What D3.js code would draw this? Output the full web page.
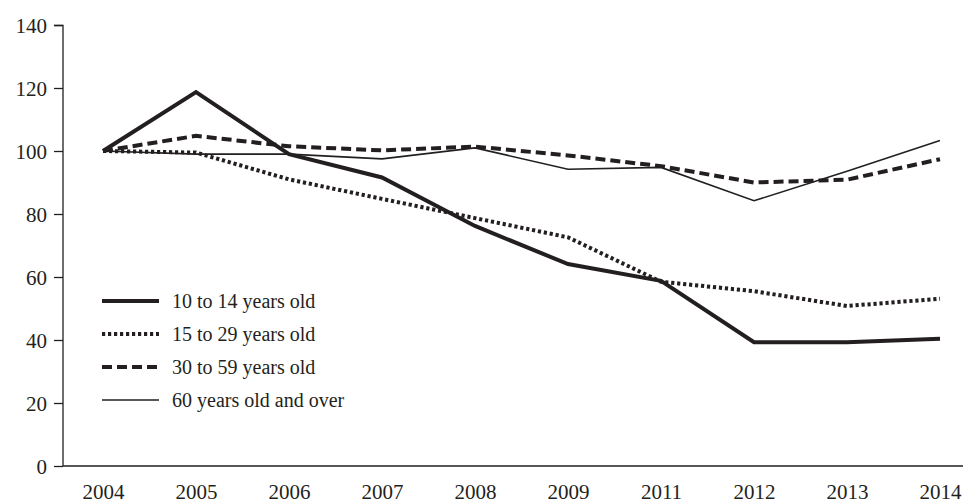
<!DOCTYPE html>
<html>
<head>
<meta charset="utf-8">
<script src="https://cdn.jsdelivr.net/npm/d3@7"></script>
<style>
body { margin: 0; background: #fff; }
text { font-family: "Liberation Serif", "DejaVu Serif", serif; fill: #231f20; }
</style>
</head>
<body>
<script>
var years = ['2004','2005','2006','2007','2008','2009','2011','2012','2013','2014'];
var age10to14 = [100, 118.7, 99, 91.6, 76.2, 64.1, 58.8, 39.3, 39.3, 40.4];
var age15to29 = [100, 99.5, 91, 84.8, 78.7, 72.6, 58.5, 55.5, 50.8, 53.1];
var age30to59 = [100, 104.8, 101.5, 100.2, 101.4, 98.6, 95.2, 90, 90.9, 97.4];
var age60plus = [100, 99, 99, 97.5, 101, 94.2, 94.8, 84.2, 93.6, 103.3];
var seriesNames = ['10 to 14 years old','15 to 29 years old','30 to 59 years old','60 years old and over'];
var yTicks = [0, 20, 40, 60, 80, 100, 120, 140];

var ink = "#231f20";
var styles = [
    {width: 4, dash: null},
    {width: 4, dash: "3.2,2.8"},
    {width: 4, dash: "10,5"},
    {width: 1.6, dash: null}
];

var svg = d3.select("body").append("svg").attr("width", 963).attr("height", 503);

var x = d3.scalePoint()
        .domain(years)
        .range([103, 940]);

var y = d3.scaleLinear()
        .domain([0, 140])
        .range([466, 25]);

// y axis
var yAxis = d3.axisLeft(y).tickValues(yTicks).tickSize(9).tickPadding(7);
var gy = svg.append("g")
        .attr("transform", "translate(63,0)")
        .call(yAxis);
gy.select(".domain").attr("stroke", ink).attr("stroke-width", 1.3).attr("d", "M-9,25.5H0V466");
gy.selectAll(".tick line").attr("stroke", ink).attr("stroke-width", 1.3);
gy.selectAll(".tick text").attr("font-size", 21).attr("font-family", "Liberation Serif").attr("fill", ink).attr("dy", "0.34em");

// x axis
var xAxis = d3.axisBottom(x).tickSize(0).tickPadding(18);
var gx = svg.append("g")
        .attr("transform", "translate(0,466)")
        .call(xAxis);
gx.select(".domain").attr("stroke", ink).attr("stroke-width", 1.3).attr("d", "M63,0H963");
gx.selectAll(".tick text").attr("font-size", 21).attr("font-family", "Liberation Serif").attr("fill", ink);

var allSeries = [age10to14, age15to29, age30to59, age60plus];

var line = d3.line()
        .x(function(d, i){ return x(years[i]); })
        .y(function(d){ return y(d); });

// draw thin line first, then dotted, dashed, thick
var order = [3, 1, 2, 0];
order.forEach(function(k){
    svg.append("path")
        .datum(allSeries[k])
        .attr("fill", "none")
        .attr("stroke", ink)
        .attr("stroke-width", styles[k].width)
        .attr("stroke-dasharray", styles[k].dash)
        .attr("stroke-linejoin", "miter")
        .attr("d", line);
});

// legend
var legend = svg.append("g").attr("transform", "translate(102,301)");
var rows = legend.selectAll("g")
        .data(seriesNames)
        .enter().append("g")
            .attr("transform", function(d, i){ return "translate(0," + (i * 33) + ")"; });
rows.append("line")
        .attr("x1", 0).attr("x2", 57)
        .attr("y1", 0).attr("y2", 0)
        .attr("stroke", ink)
        .attr("stroke-width", function(d, i){ return styles[i].width; })
        .attr("stroke-dasharray", function(d, i){ return styles[i].dash; });
rows.append("text")
        .attr("x", 70)
        .attr("y", 0)
        .attr("dy", "0.35em")
        .attr("font-size", 20)
        .text(function(d){ return d; });
</script>
</body>
</html>
